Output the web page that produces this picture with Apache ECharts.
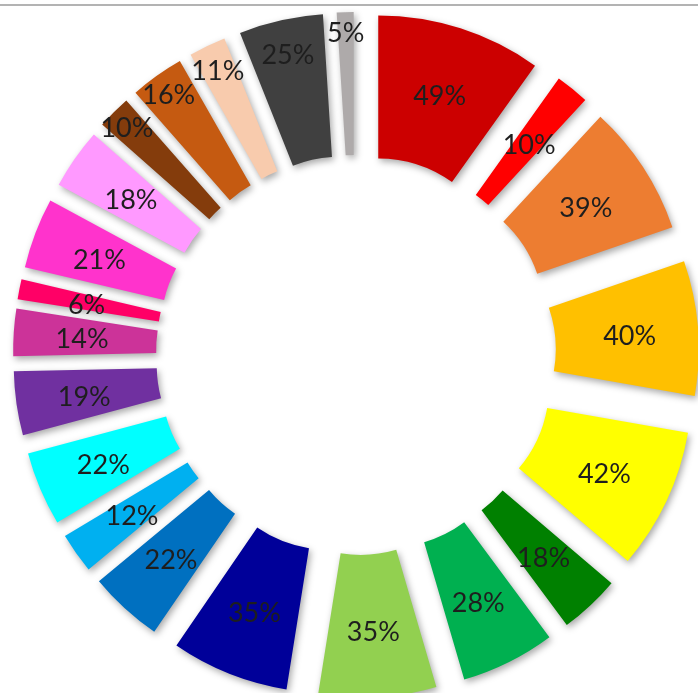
<!DOCTYPE html>
<html>
<head>
<meta charset="utf-8">
<title>Exploded doughnut</title>
<script src="https://cdn.jsdelivr.net/npm/echarts@6/dist/echarts.min.js"></script>
<style>
  html, body { margin: 0; padding: 0; background: #ffffff; }
  #chart { width: 698px; height: 693px; }
</style>
</head>
<body>
<div id="chart"></div>
<script>
// Slice values (percent), clockwise from 12 o'clock
const values = [49, 10, 39, 40, 42, 18, 28, 35, 35, 22, 12, 22, 19, 14, 6, 21, 18, 10, 16, 11, 25, 5];

// One fill per slice, same order as values
const colors = [
  '#cc0000', '#ff0000', '#ed7d31', '#ffc000', '#ffff00', '#008000',
  '#00b050', '#92d050', '#000099', '#0070c0', '#00b0f0', '#00ffff',
  '#7030a0', '#cc3399', '#ff0066', '#ff33cc', '#ff99ff', '#843c0c',
  '#c55a11', '#f8cbad', '#404040', '#aeaaaa'
];

// Labels of the narrow upper-left slices sit nearer the outer rim (px outward)
const labelPush = [0, 0, 0, 0, 0, 0, 0, 0, 0, 0, 0, 0, 0, 0, 0, 0, 0, 50, 48, 44, 36, 50];

const total = values.reduce(function (a, b) { return a + b; }, 0);

// Mid angle of every slice, measured clockwise from 12 o'clock (radians)
const midAngles = [];
(function () {
  let acc = 0;
  values.forEach(function (v) {
    midAngles.push((acc + v / 2) / total * Math.PI * 2);
    acc += v;
  });
})();

const chart = echarts.init(document.getElementById('chart'), null, { renderer: 'canvas' });

const pieData = values.map(function (v, i) {
  return {
    value: v,
    selected: true,
    itemStyle: { color: colors[i] }
  };
});

chart.setOption({
  animation: false,
  backgroundColor: '#ffffff',
  graphic: [{
    type: 'line',
    shape: { x1: 0, y1: 5, x2: 698, y2: 5 },
    style: { stroke: '#9a9a9a', lineWidth: 1.5 },
    silent: true
  }],
  series: [{
    type: 'pie',
    center: [356, 355],
    radius: [127, 270],
    startAngle: 90,
    clockwise: true,
    selectedMode: 'multiple',
    selectedOffset: 73,
    avoidLabelOverlap: false,
    minShowLabelAngle: 0,
    emphasis: { disabled: true },
    itemStyle: {
      shadowBlur: 7,
      shadowOffsetX: 2,
      shadowOffsetY: 3,
      shadowColor: 'rgba(0,0,0,0.35)'
    },
    label: {
      show: true,
      position: 'inside',
      formatter: '{c}%',
      color: '#1e1e1e',
      overflow: 'none',
      fontFamily: 'Lato, "Open Sans", sans-serif',
      fontSize: 27
    },
    labelLayout: function (params) {
      const i = params.dataIndex;
      const push = labelPush[i] || 0;
      const a = midAngles[i];
      return {
        hideOverlap: false,
        dx: push * Math.sin(a),
        dy: -push * Math.cos(a) + 3
      };
    },
    labelLine: { show: false },
    data: pieData
  }]
});
</script>
</body>
</html>
